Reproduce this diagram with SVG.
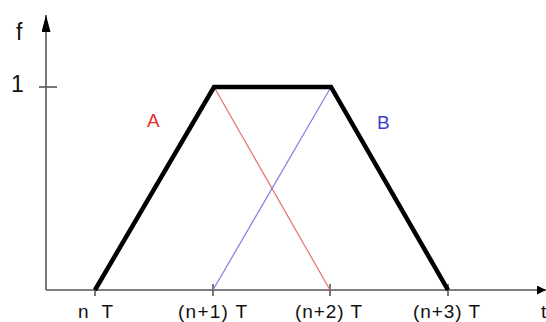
<svg xmlns="http://www.w3.org/2000/svg" width="546" height="322" viewBox="0 0 546 322">
<defs>
<style>
.lbl{font-family:"Liberation Sans",Arial,sans-serif;fill:#111}
.axis{stroke:#555;stroke-width:1.6;fill:none}
.thick{stroke:#000;stroke-width:4.5;fill:none;stroke-linejoin:miter}
</style>
<marker id="arr" viewBox="0 0 10 10" refX="10" refY="5" markerWidth="9" markerHeight="9" markerUnits="userSpaceOnUse" orient="auto">
<path d="M0,0 L10,5 L0,10 z" fill="#000"/>
</marker>
<marker id="arrY" viewBox="0 0 10 10" refX="10" refY="5" markerWidth="17" markerHeight="9" markerUnits="userSpaceOnUse" orient="auto" preserveAspectRatio="none">
<path d="M0,0 L10,5 L0,10 z" fill="#000"/>
</marker>
</defs>
<rect width="546" height="322" fill="#fff"/>
<g id="axes">
<line class="axis" x1="46" y1="290" x2="46" y2="15" marker-end="url(#arrY)"/>
<line class="axis" x1="46" y1="290" x2="546" y2="290" marker-end="url(#arr)"/>
<line class="axis" x1="39" y1="87" x2="57" y2="87"/>
<line class="axis" x1="95" y1="290" x2="95" y2="296"/>
<line class="axis" x1="213" y1="284" x2="213" y2="296"/>
<line class="axis" x1="330" y1="284" x2="330" y2="296"/>
<line class="axis" x1="448" y1="284" x2="448" y2="296"/>
</g>
<g id="connectors">
<line x1="214" y1="87" x2="330" y2="290" stroke="#e87070" stroke-width="1.2"/>
<line x1="213" y1="290" x2="331" y2="87" stroke="#8080e0" stroke-width="1.2"/>
<polyline class="thick" points="95,290 214,87 331,87 448,290"/>
</g>
<g id="labels">
<text class="lbl" x="16" y="40" font-size="23">f</text>
<text class="lbl" x="11" y="92" font-size="23">1</text>
<text class="lbl" x="147" y="127" font-size="19" style="fill:#e03030">A</text>
<text class="lbl" x="377" y="129" font-size="19" style="fill:#4040d0">B</text>
<text class="lbl" x="78" y="318" font-size="19" textLength="35" lengthAdjust="spacing">n T</text>
<text class="lbl" x="178" y="318" font-size="19" textLength="69" lengthAdjust="spacing">(n+1) T</text>
<text class="lbl" x="295" y="318" font-size="19" textLength="67" lengthAdjust="spacing">(n+2) T</text>
<text class="lbl" x="413" y="318" font-size="19" textLength="67" lengthAdjust="spacing">(n+3) T</text>
<text class="lbl" x="541" y="318" font-size="19">t</text>
</g>
</svg>
